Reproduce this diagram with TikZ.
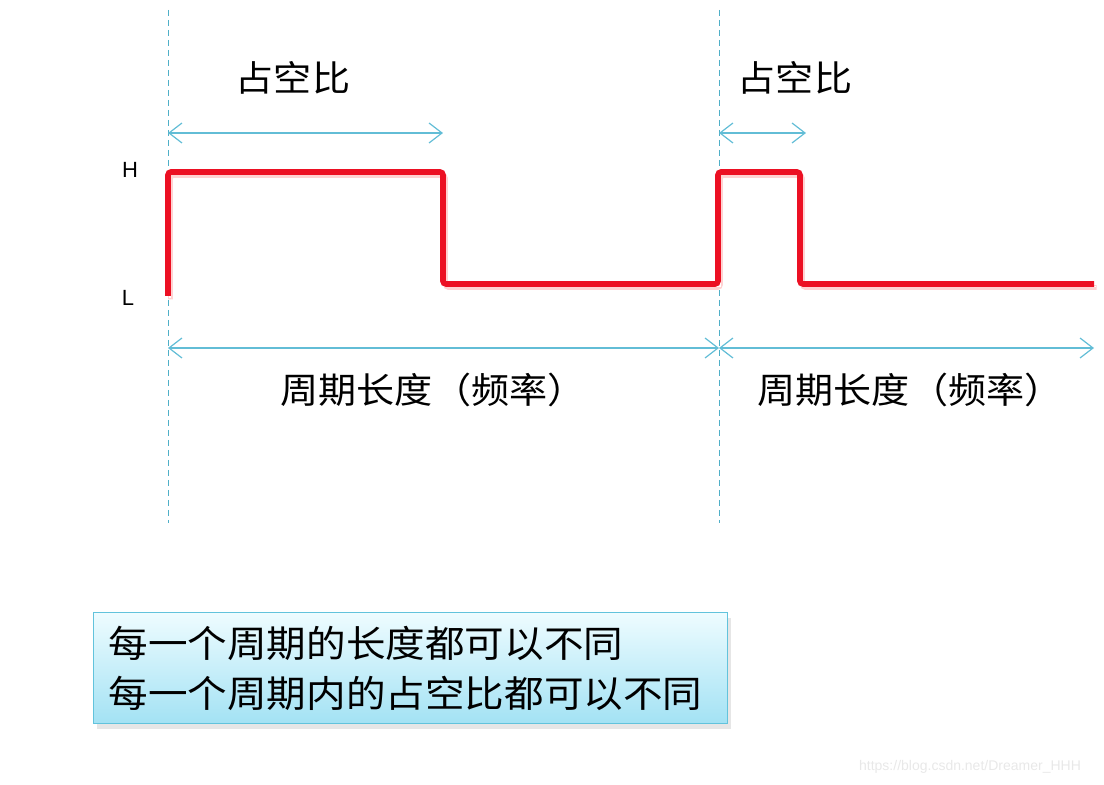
\documentclass[tikz,border=0pt]{standalone}
\usepackage{fontspec}
\setmainfont{Liberation Sans}
\newfontfamily\cjk[FakeStretch=1.07]{Noto Sans CJK SC}
\usetikzlibrary{arrows.meta,shadows}
\definecolor{guideblue}{HTML}{4FAFC8}
\definecolor{spanblue}{HTML}{62BDD6}
\definecolor{pulsered}{HTML}{EC1023}
\definecolor{boxtop}{HTML}{EEFCFF}
\definecolor{boxbottom}{HTML}{A3E2F4}
\definecolor{boxedge}{HTML}{62C3DC}
\begin{document}
\begin{tikzpicture}[
    x=0.5pt, y=-0.5pt,
    guide/.style={draw=guideblue, line width=0.5pt, dash pattern=on 3pt off 2pt},
    span/.style={draw=spanblue, line width=0.6pt,
        {Straight Barb[length=6.5pt,width=10pt]}-{Straight Barb[length=6.5pt,width=10pt]}},
    hilo/.style={font=\fontsize{11}{13}\selectfont},
    duty/.style={font=\cjk\fontsize{17.8}{20}\selectfont},
    pulse/.style={draw=pulsered, line width=2.8pt, rounded corners=1.5pt},
    infobox/.style={draw=boxedge, line width=0.6pt, top color=boxtop, bottom color=boxbottom,
        drop shadow={shadow xshift=1.5pt, shadow yshift=-2.5pt, opacity=0.2},
        anchor=north west, minimum width=317pt, minimum height=55.5pt,
        text width=302pt, inner xsep=7.5pt, align=left,
        font=\cjk\fontsize{18.5}{25}\selectfont}
]
  \useasboundingbox (0,0) rectangle (1104,785);

  % guide lines at the start of each period
  \coordinate (g1top) at (168,10);
  \coordinate (g1bot) at (168,523);
  \coordinate (g2top) at (719,10);
  \coordinate (g2bot) at (719,523);
  \coordinate (g3) at (1094,348);
  \draw[guide] (g1top) -- (g1bot);
  \draw[guide] (g2top) -- (g2bot);

  % levels
  \node[hilo] (high) at (130,170) {H};
  \node[hilo] (low) at (128,298) {L};

  % pulse train
  \draw[pink!70!white, line width=2.4pt, rounded corners=1.5pt, shift={(2.5,3.5)}]
    (168,296) -- (168,172) -- (443,172) -- (443,284) -- (718,284) -- (718,172)
    -- (800,172) -- (800,284) -- (1094,284);
  \draw[white, line width=0.8pt, shift={(2,2.5)}]
    (168,296) -- (168,172) -- (443,172) -- (443,284) -- (718,284) -- (718,172)
    -- (800,172) -- (800,284) -- (1094,284);
  \draw[pulse]
    (168,296) -- (168,172) -- (443,172) -- (443,284) -- (718,284) -- (718,172)
    -- (800,172) -- (800,284) -- (1094,284);

  % duty cycle spans
  \coordinate (d1a) at (168,133);
  \coordinate (d1b) at (443,133);
  \coordinate (d2a) at (719,133);
  \coordinate (d2b) at (806,133);
  \draw[span] (d1a) -- (d1b);
  \draw[span] (d2a) -- (d2b);
  \node[duty] (duty1) at (293,78) {占空比};
  \node[duty] (duty2) at (795,78) {占空比};

  % period spans
  \coordinate (p1a) at (168,348);
  \coordinate (p1b) at (719,348);
  \draw[span] (p1a) -- (p1b);
  \draw[span] (p1b) -- (g3);
  \node[duty] (period1) at (433,390) {周期长度（频率）};
  \node[duty] (period2) at (910,390) {周期长度（频率）};

  % note
  \node[infobox] (note) at (93,612) {每一个周期的长度都可以不同\\每一个周期内的占空比都可以不同};

  \node[text=gray!18, font=\fontsize{7}{8}\selectfont] (mark) at (970,767) {https://blog.csdn.net/Dreamer\_HHH};
\end{tikzpicture}
\end{document}
